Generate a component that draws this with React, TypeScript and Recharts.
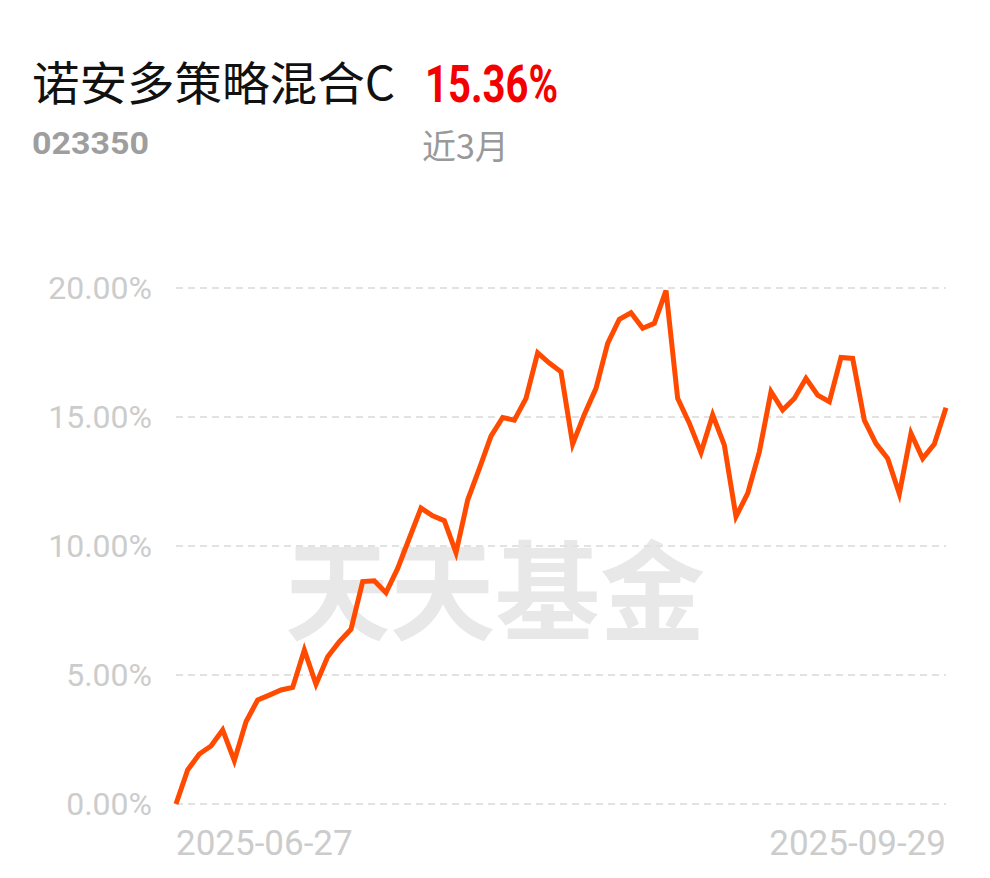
import React from 'react';
import { LineChart, Line, XAxis, YAxis, CartesianGrid } from 'recharts';

// trading days, 2025-06-27 .. 2025-09-29
const dates = [
  '2025-06-27', '2025-06-30',
  '2025-07-01', '2025-07-02', '2025-07-03', '2025-07-04',
  '2025-07-07', '2025-07-08', '2025-07-09', '2025-07-10', '2025-07-11',
  '2025-07-14', '2025-07-15', '2025-07-16', '2025-07-17', '2025-07-18',
  '2025-07-21', '2025-07-22', '2025-07-23', '2025-07-24', '2025-07-25',
  '2025-07-28', '2025-07-29', '2025-07-30', '2025-07-31',
  '2025-08-01',
  '2025-08-04', '2025-08-05', '2025-08-06', '2025-08-07', '2025-08-08',
  '2025-08-11', '2025-08-12', '2025-08-13', '2025-08-14', '2025-08-15',
  '2025-08-18', '2025-08-19', '2025-08-20', '2025-08-21', '2025-08-22',
  '2025-08-25', '2025-08-26', '2025-08-27', '2025-08-28', '2025-08-29',
  '2025-09-01', '2025-09-02', '2025-09-03', '2025-09-04', '2025-09-05',
  '2025-09-08', '2025-09-09', '2025-09-10', '2025-09-11', '2025-09-12',
  '2025-09-15', '2025-09-16', '2025-09-17', '2025-09-18', '2025-09-19',
  '2025-09-22', '2025-09-23', '2025-09-24', '2025-09-25', '2025-09-26',
  '2025-09-29',
];

// cumulative return, %
const returns = [
  0.0, 1.32, 1.94, 2.25, 2.87, 1.68, 3.19, 4.03, 4.22, 4.42,
  4.52, 5.97, 4.64, 5.71, 6.29, 6.77, 8.62, 8.65, 8.19, 9.13,
  10.3, 11.47, 11.17, 10.98, 9.74, 11.78, 13.0, 14.26, 14.98, 14.88,
  15.72, 17.49, 17.09, 16.75, 13.95, 15.1, 16.11, 17.85, 18.79, 19.04,
  18.44, 18.63, 19.9, 15.72, 14.76, 13.62, 15.08, 13.91, 11.14, 12.04,
  13.65, 15.98, 15.27, 15.72, 16.5, 15.85, 15.59, 17.31, 17.27, 14.88,
  13.97, 13.39, 12.02, 14.37, 13.39, 13.95, 15.36,
];

const yTicks = [0, 5, 10, 15, 20];
const xTicks = ['2025-06-27', '2025-09-29'];

const fundName = '诺安多策略混合C';
const fundCode = '023350';
const periodReturn = '15.36%';
const periodLabel = '近3月';
const watermark = '天天基金';

const data = dates.map((d, i) => ({ date: d, value: returns[i] }));

const DateTick = (props: any) => {
  const { x, y, payload } = props;
  const first = payload.value === xTicks[0];
  return (
    <text
      x={x}
      y={y}
      dy={51}
      textAnchor={first ? 'start' : 'end'}
      fill="#cccccc"
      fontSize={35}
      fontFamily="Roboto"
    >
      {payload.value}
    </text>
  );
};

export default function App() {
  return (
    <div style={{ position: 'absolute', left: 0, top: 0, width: 990, height: 878, background: '#fff' }}>
      {/* watermark sits under the line */}
      <svg width={990} height={878} style={{ position: 'absolute', left: 0, top: 0 }}>
        <text
          x={285}
          y={632}
          fontSize={108}
          fontWeight={700}
          fontFamily="'Noto Sans CJK SC'"
          fill="#e8e8e8"
          textLength={420}
          lengthAdjust="spacingAndGlyphs"
        >
          {watermark}
        </text>
      </svg>
      <div style={{ position: 'absolute', left: 0, top: 0 }}>
        <LineChart width={990} height={878} data={data} margin={{ top: 288, right: 44, left: 0, bottom: 0 }}>
          <CartesianGrid vertical={false} stroke="#e2e2e2" strokeWidth={2} strokeDasharray="7 5" />
          <XAxis
            dataKey="date"
            ticks={xTicks}
            interval={0}
            axisLine={false}
            tickLine={false}
            tickSize={0}
            tickMargin={0}
            height={74}
            tick={DateTick}
          />
          <YAxis
            domain={[0, 20]}
            ticks={yTicks}
            width={176}
            axisLine={false}
            tickLine={false}
            tickSize={0}
            tickMargin={24}
            tickFormatter={(v: number) => v.toFixed(2) + '%'}
            tick={{ fill: '#cccccc', fontSize: 32, fontFamily: 'Roboto' }}
          />
          <Line
            type="linear"
            dataKey="value"
            stroke="#ff4a00"
            strokeWidth={5}
            dot={false}
            isAnimationActive={false}
          />
        </LineChart>
      </div>
      <svg width={990} height={200} style={{ position: 'absolute', left: 0, top: 0 }}>
        <text
          x={32}
          y={100}
          fontSize={46}
          fontFamily="'Noto Sans CJK SC'"
          fill="#111"
          textLength={363}
          lengthAdjust="spacingAndGlyphs"
        >
          {fundName}
        </text>
        <text
          x={425}
          y={102}
          fontSize={52}
          fontWeight={700}
          fontFamily="Roboto"
          fill="#f40000"
          textLength={133}
          lengthAdjust="spacingAndGlyphs"
        >
          {periodReturn}
        </text>
        <text
          x={32}
          y={154}
          fontSize={31}
          fontWeight={700}
          fontFamily="Roboto"
          fill="#9e9e9e"
          textLength={117}
          lengthAdjust="spacingAndGlyphs"
        >
          {fundCode}
        </text>
        <text x={422} y={159} fontSize={34} fontFamily="'Noto Sans CJK SC'" fill="#999">
          {periodLabel}
        </text>
      </svg>
    </div>
  );
}
